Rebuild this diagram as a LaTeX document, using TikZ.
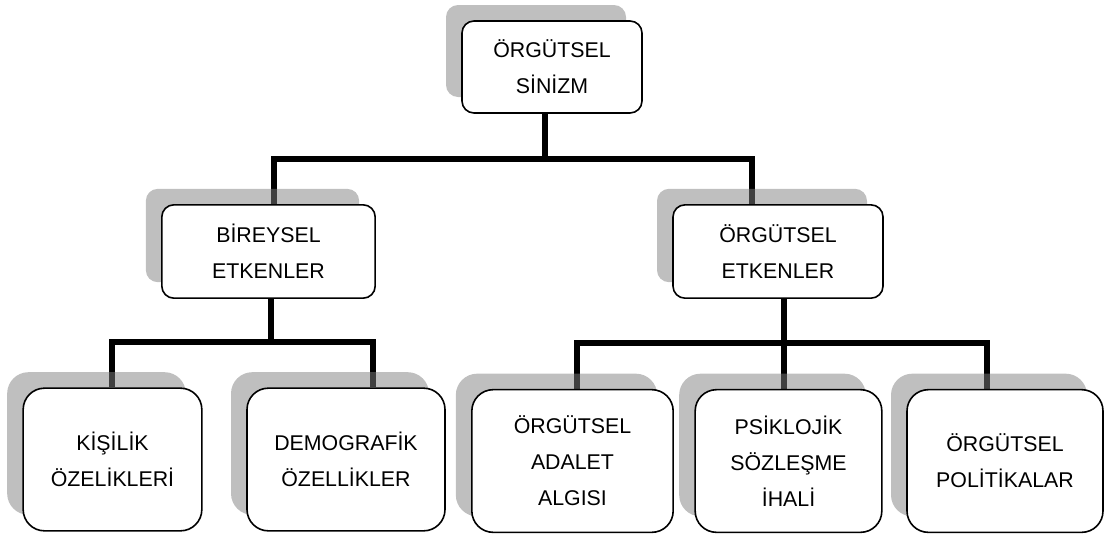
\documentclass[tikz,border=0pt]{standalone}
\usepackage{fontspec}
\setmainfont{Liberation Sans}
\usetikzlibrary{shadows,backgrounds}

\begin{document}
\begin{tikzpicture}[x=0.75pt,y=-0.75pt,
    kutu/.style={draw,line width=1.2pt,fill=white,rounded corners=9pt,align=center,
      inner sep=0pt,font=\fontsize{16pt}{27pt}\selectfont,
      drop shadow={shadow xshift=-12pt,shadow yshift=12pt}},
    altkutu/.style={kutu,rounded corners=16pt,minimum height=107pt},
    hat/.style={line width=4pt}]
    \useasboundingbox (0,0) rectangle (1106,533);
    %top box and the two factor groups
    \node[kutu,minimum width=135pt,minimum height=69pt] (sinizm) at (552,67) {ÖRGÜTSEL\\SİNİZM};
    \node[kutu,minimum width=160pt,minimum height=70pt] (bireysel) at (268.5,251.5) {BİREYSEL\\ETKENLER};
    \node[kutu,minimum width=157.5pt,minimum height=70pt] (orgetken) at (778,251.5) {ÖRGÜTSEL\\ETKENLER};
    %lower level
    \node[altkutu,minimum width=134pt] (kisilik) at (112.5,459.5) {KİŞİLİK\\ÖZELİKLERİ};
    \node[altkutu,minimum width=148.5pt] (demog) at (346,459.5) {DEMOGRAFİK\\ÖZELLİKLER};
    \node[altkutu,minimum width=151pt] (adalet) at (572.5,461) {ÖRGÜTSEL\\ADALET\\ALGISI};
    \node[altkutu,minimum width=140pt] (psikolojik) at (788.5,461) {PSİKLOJİK\\SÖZLEŞME\\İHALİ};
    \node[altkutu,minimum width=147pt] (politika) at (1005,461) {ÖRGÜTSEL\\POLİTİKALAR};
    %connectors behind the shadows
    \begin{scope}[on background layer]
    \draw[hat] (sinizm.south -| 545,0) -- (545,159);
    \draw[hat] (bireysel.north -| 274,0) |- (752,159) -- (orgetken.north -| 752,0);
    \draw[hat] (bireysel.south -| 271,0) -- (271,342);
    \draw[hat] (kisilik.north -| 112,0) |- (373,342) -- (demog.north -| 373,0);
    \draw[hat] (orgetken.south -| 784,0) -- (psikolojik.north -| 784,0);
    \draw[hat] (adalet.north -| 577,0) |- (987,343) -- (politika.north -| 987,0);
    \end{scope}
\end{tikzpicture}
\end{document}
